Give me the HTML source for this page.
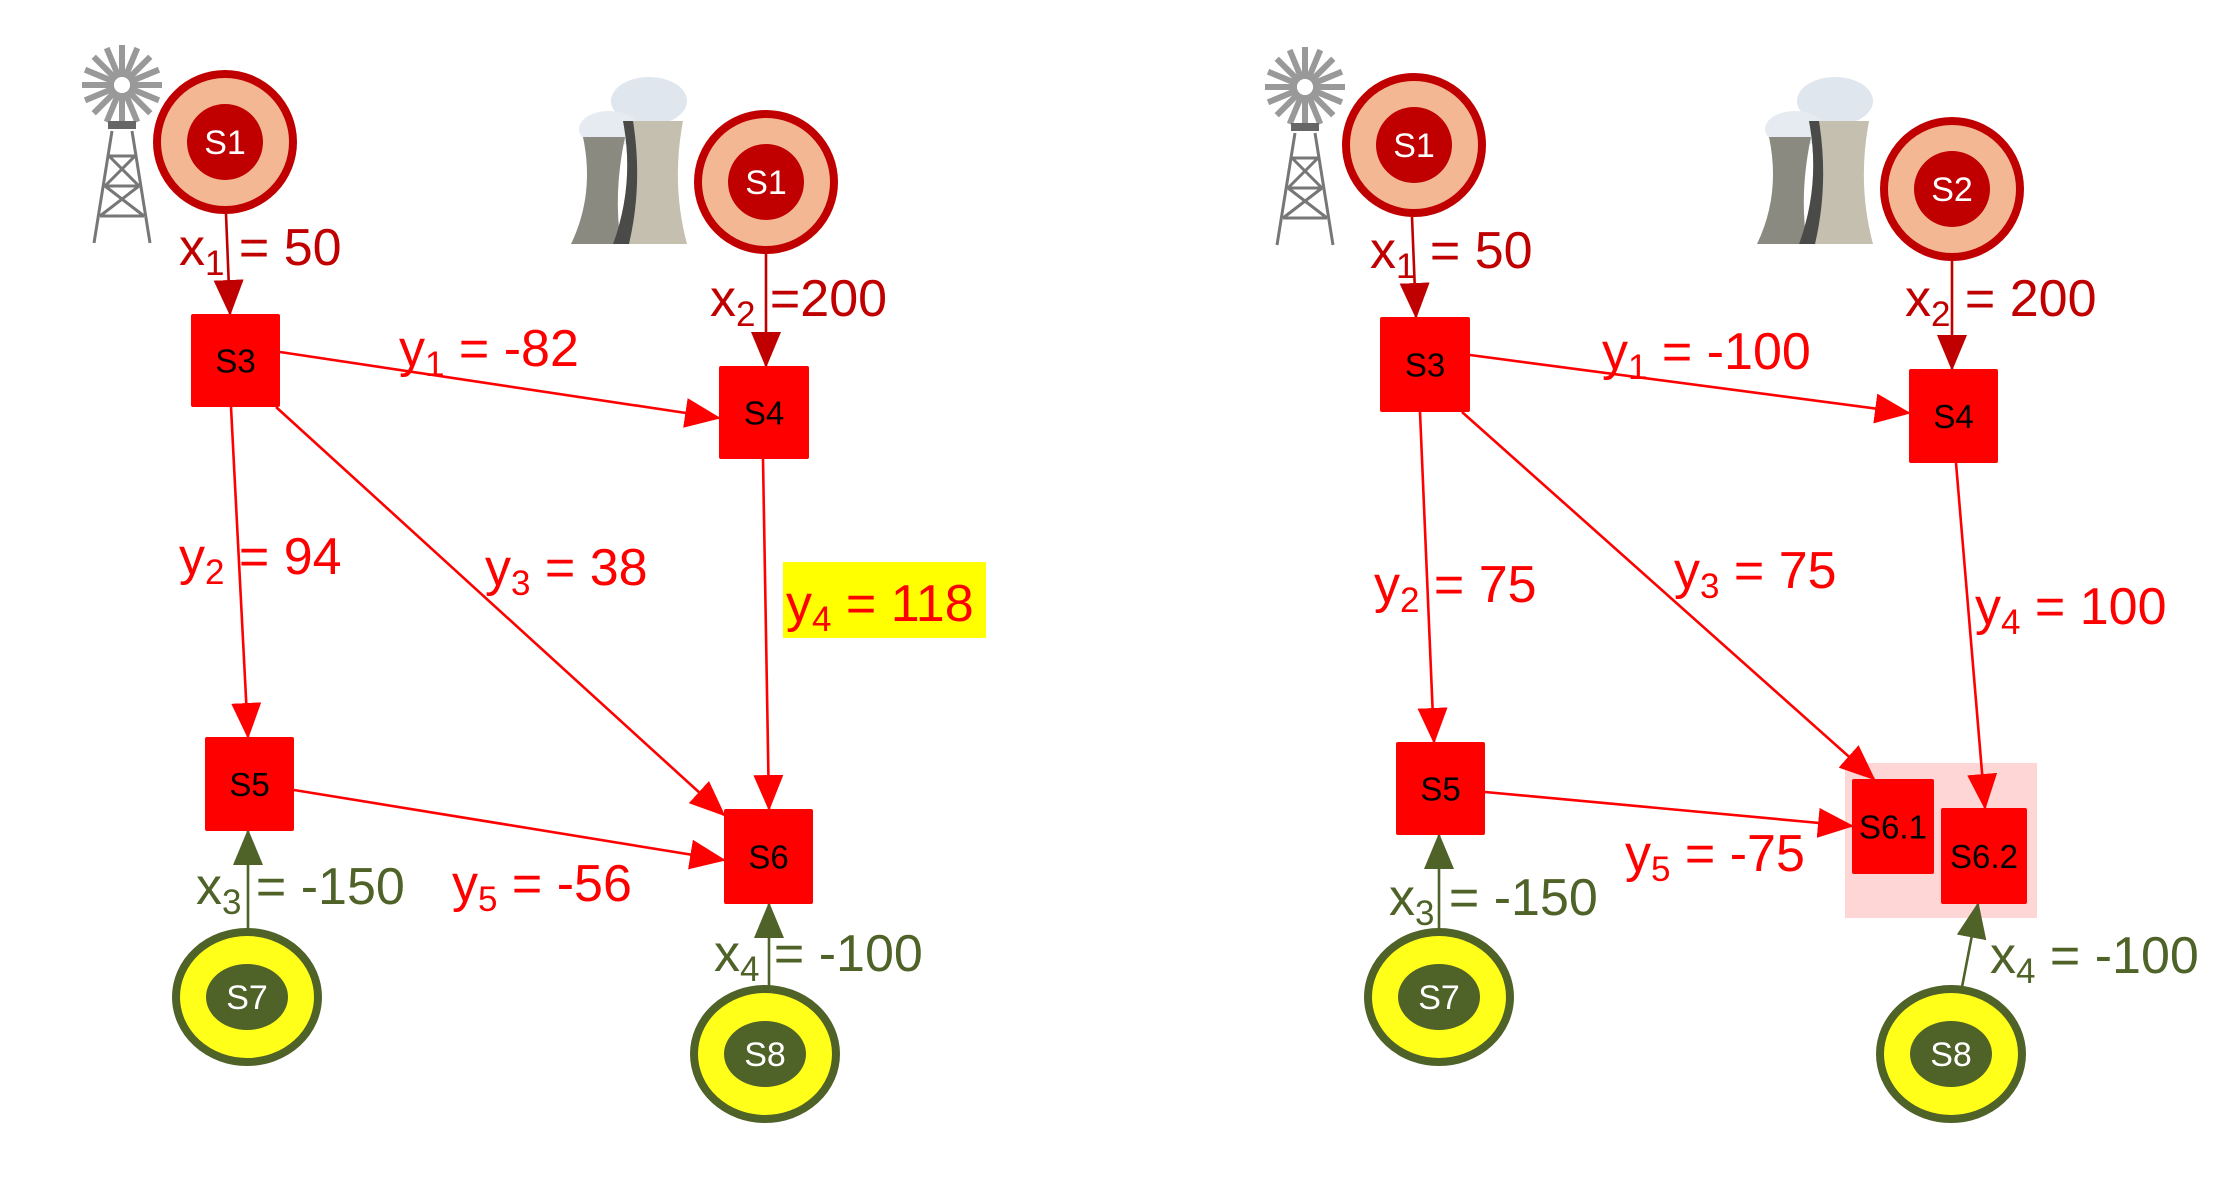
<!DOCTYPE html>
<html><head><meta charset="utf-8"><style>
html,body{margin:0;padding:0;background:#fff;}
svg{display:block;font-family:"Liberation Sans",sans-serif;}
</style></head><body>
<svg id="c" width="2238" height="1180" viewBox="0 0 2238 1180" xmlns="http://www.w3.org/2000/svg">
<defs>
<marker id="ar" markerUnits="userSpaceOnUse" markerWidth="36" markerHeight="30" refX="34" refY="15" orient="auto"><path d="M0,0 L36,15 L0,30 Z" fill="#ff0000"/></marker>
<marker id="ad" markerUnits="userSpaceOnUse" markerWidth="36" markerHeight="30" refX="34" refY="15" orient="auto"><path d="M0,0 L36,15 L0,30 Z" fill="#c00000"/></marker>
<marker id="ag" markerUnits="userSpaceOnUse" markerWidth="36" markerHeight="30" refX="34" refY="15" orient="auto"><path d="M0,0 L36,15 L0,30 Z" fill="#4f6228"/></marker>
</defs>
<rect x="1845" y="763" width="192" height="155" fill="#ffd6d6"/>
<g id="icons"></g>
<g id="edges"></g>
<g id="nodes"></g>
<rect x="783" y="562" width="203" height="76" fill="#ffff00"/>
<g id="labels"></g>
</svg>
<script>
const NS="http://www.w3.org/2000/svg";
function mk(tag,attrs,parent){const e=document.createElementNS(NS,tag);for(const k in attrs)e.setAttribute(k,attrs[k]);parent.appendChild(e);return e;}
const icons=document.getElementById('icons'),edges=document.getElementById('edges'),nodes=document.getElementById('nodes'),labels=document.getElementById('labels');

// Source/sink circles: [name, cx, cy, type]
const circleNodes=[["S1",225,142,"src"],["S1",766,182,"src"],["S7",247,997,"sink"],["S8",765,1054,"sink"],
 ["S1",1414,145,"src"],["S2",1952,189,"src"],["S7",1439,997,"sink"],["S8",1951,1054,"sink"]];
// Square nodes: [name, x, y, w, h]
const squareNodes=[["S3",191,314,89,93],["S4",719,366,90,93],["S5",205,737,89,94],["S6",724,809,89,95],
 ["S3",1380,317,90,95],["S4",1909,369,89,94],["S5",1396,742,89,93],["S6.1",1852,779,82,95],["S6.2",1941,808,86,96]];
// Edges: [x1,y1,x2,y2,color]
const edgeList=[[226,214,230,314,"d"],[766,254,766,366,"d"],[280,352,719,418,"r"],[231,407,248,737,"r"],[276,407,724,815,"r"],[763,459,769,809,"r"],[294,790,724,860,"r"],[248,930,248,831,"g"],[769,987,769,904,"g"],
 [1412,217,1416,317,"d"],[1952,261,1952,369,"d"],[1470,355,1909,413,"r"],[1420,412,1434,742,"r"],[1462,412,1874,779,"r"],[1956,463,1985,808,"r"],[1485,792,1852,826,"r"],[1439,930,1439,835,"g"],[1962,987,1978,904,"g"]];
// Labels: [main, sub, rest, x, baseline, color]
const labelList=[["x","1"," = 50",179,265,"d"],["x","2"," =200",710,316,"d"],["y","1"," = -82",399,366,"r"],["y","2"," = 94",179,574,"r"],["y","3"," = 38",485,585,"r"],["y","4"," = 118",786,621,"r"],["x","3"," = -150",196,904,"g"],["y","5"," = -56",452,901,"r"],["x","4"," = -100",714,971,"g"],
 ["x","1"," = 50",1370,268,"d"],["x","2"," = 200",1905,316,"d"],["y","1"," = -100",1602,369,"r"],["y","2"," = 75",1374,602,"r"],["y","3"," = 75",1674,588,"r"],["y","4"," = 100",1975,624,"r"],["x","3"," = -150",1389,915,"g"],["y","5"," = -75",1625,871,"r"],["x","4"," = -100",1990,973,"g"]];
const col={d:"#c00000",r:"#ff0000",g:"#4f6228"};
const mark={d:"url(#ad)",r:"url(#ar)",g:"url(#ag)"};

function windmill(x,y){const g=mk('g',{},icons);
 
 
 const cx=x+43,cy=y+42;
 for(let i=0;i<16;i++){const a=i*Math.PI/8;mk('line',{x1:cx+8*Math.cos(a),y1:cy+8*Math.sin(a),x2:cx+40*Math.cos(a),y2:cy+40*Math.sin(a),stroke:'#999','stroke-width':6},g);}
 mk('rect',{x:cx-14,y:cy+36,width:28,height:8,fill:'#666'},g);
 const t=y+88,b=y+200;
 mk('path',{d:`M${cx-10},${t} L${cx-28},${b} M${cx+10},${t} L${cx+28},${b} M${cx-13},${t+25} L${cx+13},${t+25} M${cx-17},${t+55} L${cx+17},${t+55} M${cx-22},${t+85} L${cx+22},${t+85} M${cx-13},${t+25} L${cx+17},${t+55} M${cx+13},${t+25} L${cx-17},${t+55} M${cx-17},${t+55} L${cx+22},${t+85} M${cx+17},${t+55} L${cx-22},${t+85}`,stroke:'#777','stroke-width':3,fill:'none'},g);}
function towers(x,y){const g=mk('g',{},icons);
 
 
 mk('ellipse',{cx:x+78,cy:y+22,rx:38,ry:24,fill:'#dfe6ee'},g);
 mk('ellipse',{cx:x+38,cy:y+50,rx:30,ry:18,fill:'#e5ebf1'},g);
 mk('path',{d:`M${x+12},${y+58} Q${x+24},${y+115} ${x},${y+165} L${x+50},${y+165} Q${x+42},${y+115} ${x+54},${y+58} Z`,fill:'#8a8a80'},g);
 mk('path',{d:`M${x+52},${y+42} Q${x+64},${y+105} ${x+42},${y+165} L${x+116},${y+165} Q${x+100},${y+105} ${x+112},${y+42} Z`,fill:'#c4bfae'},g);
 mk('path',{d:`M${x+52},${y+42} Q${x+64},${y+105} ${x+42},${y+165} L${x+58},${y+165} Q${x+72},${y+105} ${x+62},${y+42} Z`,fill:'#4a4a48'},g);}
windmill(79,43);towers(571,79);windmill(1262,45);towers(1757,79);

for(const e of edgeList){const l=mk('line',{x1:e[0],y1:e[1],x2:e[2],y2:e[3],stroke:col[e[4]],'stroke-width':2.6,'marker-end':mark[e[4]]},edges);
 
 }

for(const c of circleNodes){const g=mk('g',{},nodes);
 
 
 if(c[3]==='src'){mk('circle',{cx:c[1],cy:c[2],r:68,fill:'#f4b793',stroke:'#c00000','stroke-width':8},g);mk('circle',{cx:c[1],cy:c[2],r:38,fill:'#c00000'},g);}
 else{mk('ellipse',{cx:c[1],cy:c[2],rx:71,ry:65,fill:'#ffff1a',stroke:'#4f6228','stroke-width':8},g);mk('ellipse',{cx:c[1],cy:c[2],rx:41,ry:33,fill:'#4f6228'},g);}
 const t=mk('text',{x:c[1],y:c[2]+12,'text-anchor':'middle','font-size':34,fill:'#fff'},g);t.textContent=c[0];}

for(const s of squareNodes){const g=mk('g',{},nodes);
 
 
 mk('rect',{x:s[1],y:s[2],width:s[3],height:s[4],fill:'#ff0000',rx:2},g);
 const t=mk('text',{x:s[1]+s[3]/2,y:s[2]+s[4]/2+12,'text-anchor':'middle','font-size':33,fill:'#000'},g);t.textContent=s[0];}

for(const L of labelList){const t=mk('text',{x:L[3],y:L[4],'font-size':52,fill:col[L[5]]},labels);
 
 
 const a=mk('tspan',{},t);a.textContent=L[0];
 const b=mk('tspan',{'font-size':35,dy:10},t);b.textContent=L[1];
 const c=mk('tspan',{dy:-10},t);c.textContent=L[2];}
</script>
</body></html>
